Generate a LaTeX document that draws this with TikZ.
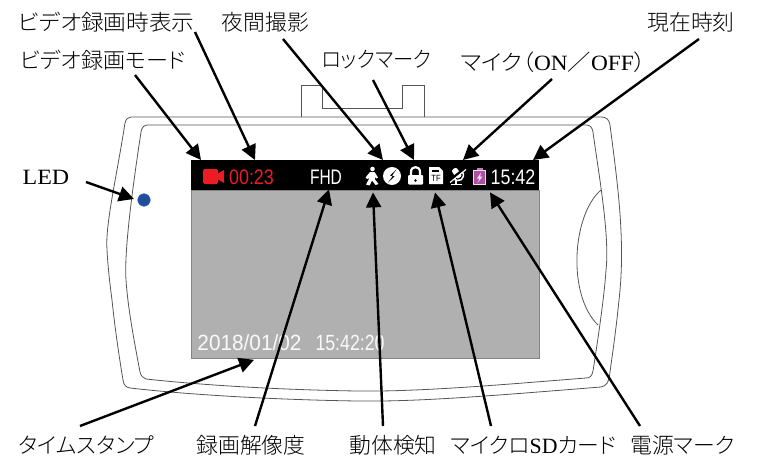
\documentclass[tikz,border=0pt]{standalone}
\usepackage{fontspec}
\setmainfont{Liberation Serif}
\setsansfont{Liberation Sans}
\newfontfamily\cjk[RawFeature=+palt,UprightFont=* Light]{Noto Sans CJK JP}
\usetikzlibrary{arrows.meta}
\definecolor{bodyline}{HTML}{555555}
\definecolor{screengray}{HTML}{B0B0B0}
\definecolor{camred}{HTML}{ED1C24}
\definecolor{ledblue}{HTML}{1F4E9E}
\definecolor{battpurple}{HTML}{B050A5}
\tikzset{
  x=1pt,y=-1pt,
  lab/.style={inner sep=0pt,anchor=center,text=black,font=\fontsize{21.8}{22}\selectfont},
  arr/.style={line width=2.4pt,-{Triangle[length=15pt,width=15pt]}},
  body/.style={draw=bodyline,line width=.8pt,fill=none},
  hud/.style={inner sep=0pt,anchor=center,font=\sffamily\fontsize{21}{21}\selectfont},
  ico/.style={fill=white,draw=none}
}
\begin{document}
\begin{tikzpicture}
\useasboundingbox (0,0) rectangle (758,460);
% device body
\draw[body,fill=white] (301,117) -- (301,85) -- (322,85) -- (322,108) -- (402,108) -- (402,85) -- (424,85) -- (424,117);
\draw[body] (131,117) -- (601,117) .. controls (606,117) and (609,119) .. (610,125)
  .. controls (617,180) and (626,240) .. (619,300) .. controls (616,330) and (613,350) .. (610,372)
  .. controls (609,383) and (606,386) .. (601,387) .. controls (500,395) and (420,402) .. (357,401)
  .. controls (290,400) and (200,396) .. (130,388) .. controls (126,387) and (124,386) .. (123,380)
  .. controls (118,350) and (114,320) .. (112,300) .. controls (110,285) and (108,268) .. (107,250)
  .. controls (105,225) and (117,175) .. (125,123) .. controls (126,119) and (128,117) .. (131,117) -- cycle;
\draw[body] (148,125) -- (586,125) .. controls (590,125) and (592,127) .. (593,132)
  .. controls (598,170) and (610,235) .. (606,270) .. controls (604,300) and (597,345) .. (593,371)
  .. controls (592,376) and (590,378) .. (586,378) .. controls (510,384) and (420,392) .. (357,391)
  .. controls (290,390) and (210,386) .. (146,379) .. controls (143,378) and (141,376) .. (140,372)
  .. controls (135,345) and (128,310) .. (126,280) .. controls (124,250) and (133,185) .. (141,132)
  .. controls (142,127) and (144,125) .. (148,125) -- cycle;
\draw[body] (601,190) .. controls (572,215) and (567,295) .. (598,325);
% LED
\node[circle,fill=ledblue,draw=ledblue!85!white,line width=.6pt,minimum size=12.5pt,inner sep=0pt] (led) at (144,200) {};
% screen
\node[draw=screengray!75!black,line width=.8pt,fill=screengray,minimum width=348pt,minimum height=168pt,inner sep=0pt,anchor=north west] (screen) at (191,190) {};
\node[fill=black,minimum width=348pt,minimum height=30pt,inner sep=0pt,anchor=north west] (bar) at (191,160) {};
% status icons
\fill[camred,rounded corners=1.5pt] (203,169) rectangle (218,184);
\fill[camred] (217,174) -- (224,170) -- (224,183) -- (217,179) -- cycle;
\node[hud,text=camred] (counter) at (251.5,177) {\scalebox{.85}[1]{00:23}};
\node[hud,text=white] (fhd) at (326,177) {\scalebox{.74}[1]{FHD}};
% walker
\fill[white] (372.5,169) circle (2.3);
\fill[white] (370,172) -- (374.5,172) -- (378,177.5) -- (376.5,178.5) -- (375,177) -- (375,179.5) -- (378.5,184) -- (375.5,185) -- (372,180.5) -- (369.5,185.5) -- (366,184.5) -- (369.5,178) -- (367,179) -- (365.5,177.5) -- cycle;
% bolt badge
\fill[white] (392,176) circle (9);
\fill[black] (396.5,169.5) -- (390,175.5) -- (392.5,176.5) -- (388,182.5) -- (394.5,176.5) -- (392,175.5) -- cycle;
% padlock
\draw[white,line width=2.2pt] (411,176) -- (411,172) .. controls (411,165.5) and (420,165.5) .. (420,172) -- (420,176);
\fill[white,rounded corners=1pt] (408,175) rectangle (423,184.5);
\fill[black] (415.5,180.5) circle (1.4);
% SD card
\fill[white] (429,167) -- (439,167) -- (443,171) -- (443,184) -- (429,184) -- cycle;
\fill[black] (431.5,169.5) rectangle (439,172);
\node[inner sep=0pt,text=black,font=\sffamily\fontsize{9}{9}\selectfont] (tf) at (436,178.5) {\scalebox{.85}[1]{TF}};
% muted microphone
\begin{scope}[rotate around={35:(458,175)}]
\fill[white,rounded corners=2pt] (455,167.5) rectangle (461,178);
\draw[white,line width=1.5pt] (452.5,174) .. controls (452.5,183) and (463.5,183) .. (463.5,174);
\end{scope}
\draw[white,line width=1.6pt] (456,180) -- (456,184);
\draw[white,line width=1.6pt] (451,184.5) -- (462,184.5);
\draw[black,line width=2.6pt] (449,181) -- (466,167.5);
\draw[white,line width=1.2pt] (450,182.5) -- (466,169.5);
% battery
\fill[battpurple!75!white] (476.5,168) rectangle (482.5,171);
\fill[battpurple,draw=white!80!battpurple,line width=.8pt] (473.5,170.5) rectangle (485.5,184.5);
\fill[white!85!battpurple] (481,172.5) -- (477,178.5) -- (479.5,178.5) -- (477.5,183) -- (482.5,176.5) -- (480,176.5) -- cycle;
\node[hud,text=white] (clock) at (513,177) {\scalebox{.85}[1]{15:42}};
% timestamp
\node[hud,text=white!92!screengray,font=\sffamily\fontsize{22}{22}\selectfont] (stamp) at (291,343) {\scalebox{.945}[1]{2018/01/02}\hspace{14pt}\scalebox{.806}[1]{15:42:20}};
% labels
\node[lab] (Lvtime) at (106.5,22) {\scalebox{1.04}[1]{\cjk ビデオ録画時表示}};
\node[lab] (Lvmode) at (103,60) {\scalebox{1.01}[1]{\cjk ビデオ録画モード}};
\node[lab] (Lnight) at (265.5,22) {\cjk 夜間撮影};
\node[lab] (Llock) at (376.5,60) {\scalebox{.93}[1]{\cjk ロックマーク}};
\node[lab] (Lmic) at (553,62) {\scalebox{1.07}[1]{{\cjk マイク（}ON{\cjk ／}OFF{\cjk ）}}};
\node[lab] (Lnow) at (691,22) {\cjk 現在時刻};
\node[lab] (Lled) at (46,177) {\scalebox{1.1}[1]{LED}};
\node[lab] (Lts) at (86.5,445) {\cjk タイムスタンプ};
\node[lab] (Lres) at (251,445) {\cjk 録画解像度};
\node[lab] (Lmotion) at (393,445) {\cjk 動体検知};
\node[lab] (Lsd) at (533.5,445) {{\cjk マイクロ}SD{\cjk カード}};
\node[lab] (Lpwr) at (682.5,445) {\cjk 電源マーク};
% connectors
\draw[arr] ([shift={(32,15)}]Lvmode.center) -- ([shift={(10,0)}]bar.north west);
\draw[arr] ([shift={(88.5,10)}]Lvtime.center) -- ([shift={(64,0)}]bar.north west);
\draw[arr] ([shift={(17.5,17)}]Lnight.center) -- ([shift={(192,0)}]bar.north west);
\draw[arr] ([shift={(-3.5,20)}]Llock.center) -- ([shift={(223,0)}]bar.north west);
\draw[arr] ([shift={(-1,17)}]Lmic.center) -- ([shift={(272,0)}]bar.north west);
\draw[arr] ([shift={(8,17)}]Lnow.center) -- ([shift={(342,0)}]bar.north west);
\draw[arr] ([shift={(40,5)}]Lled.center) -- ([shift={(-3.5,-1)}]led.west);
\draw[arr] ([shift={(-6.5,-19)}]Lts.center) -- ([shift={(63,1)}]screen.south west);
\draw[arr] ([shift={(4,-19)}]Lres.center) -- ([shift={(138,-1)}]bar.south west);
\draw[arr] ([shift={(-10,-19)}]Lmotion.center) -- ([shift={(182,2)}]bar.south west);
\draw[arr] ([shift={(-42.5,-19)}]Lsd.center) -- ([shift={(244,2)}]bar.south west);
\draw[arr] ([shift={(-42.5,-19)}]Lpwr.center) -- ([shift={(299,2)}]bar.south west);
\end{tikzpicture}
\end{document}
